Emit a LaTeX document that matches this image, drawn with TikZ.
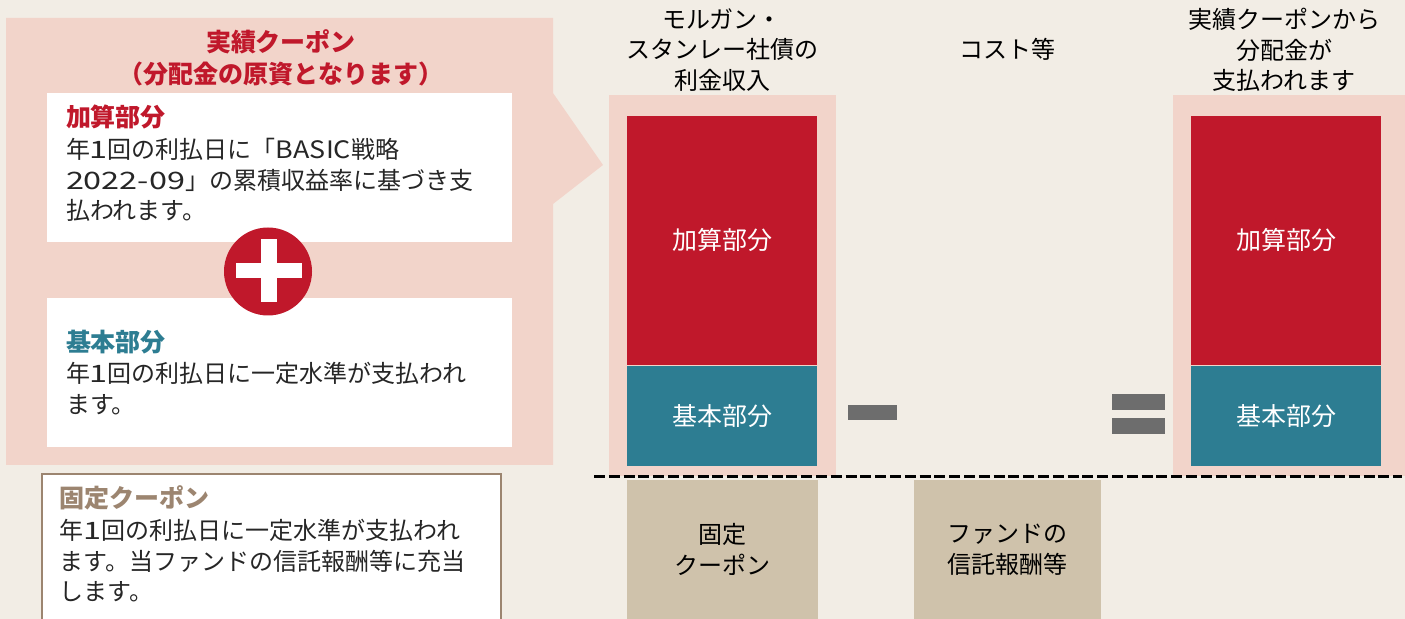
\documentclass[tikz,border=0pt]{standalone}
\usepackage{fontspec}
\setmainfont{Noto Sans CJK JP}
\newfontfamily\digfont[FakeStretch=1.35]{Noto Sans CJK JP}
\newfontfamily\latfont[FakeStretch=1.12]{Noto Sans CJK JP}
\usetikzlibrary{positioning}
\definecolor{paper}{HTML}{F2EDE5}
\definecolor{blush}{HTML}{F2D4CA}
\definecolor{couponred}{HTML}{C0182B}
\definecolor{couponteal}{HTML}{2D7D92}
\definecolor{sand}{HTML}{CFC2AB}
\definecolor{umber}{HTML}{9C8570}
\definecolor{slab}{HTML}{6D6D6D}
\begin{document}
\begin{tikzpicture}
[
   x=0.5pt,
   y=-0.5pt,
   align=center,
   every node/.style={inner sep=0pt, outer sep=0pt}
]

\tikzset{bar/.style = {shape=rectangle, minimum width=95pt, anchor=north west}}
\tikzset{redbar/.style = {bar, fill=couponred, text=white, font=\fontsize{12.5}{15.3}\selectfont}}
\tikzset{tealbar/.style = {bar, fill=couponteal, text=white, font=\fontsize{12.5}{15.3}\selectfont}}
\tikzset{sandbar/.style = {shape=rectangle, fill=sand, anchor=north west}}
\tikzset{backbar/.style = {shape=rectangle, fill=blush, anchor=north west}}
\tikzset{whitebox/.style = {shape=rectangle, fill=white, minimum width=232.5pt, minimum height=74.5pt, anchor=north west}}
\tikzset{slabbar/.style = {shape=rectangle, fill=slab, anchor=north west}}
\tikzset{lab/.style = {font=\fontsize{12}{15.3}\selectfont}}
\tikzset{body/.style = {font=\fontsize{12}{15.4}\selectfont, align=left, anchor=north west, text=black!85}}
\tikzset{head/.style = {font=\fontsize{12.5}{16}\selectfont\bfseries, align=left, anchor=west}}

\fill[paper] (0,0) rectangle (1405,619);
\useasboundingbox (0,0) rectangle (1405,619);
\fill[blush] (6,18) -- (553,18) -- (553,93) -- (603,165) -- (553,204) -- (553,465) -- (6,465) -- cycle;

% left boxes
\node[whitebox] (addbox) at (47,93) {};
\node[whitebox] (basebox) at (47,298) {};
\node[head, text=couponred, align=center, anchor=center] (title) at (281,58) {実績クーポン\\（分配金の原資となります）};
\node[head, text=couponred] (addhead) at (66,117) {加算部分};
\node[body] (addtext) at (66,138) {年{\digfont 1}回の利払日に「{\latfont BASIC}戦略\\{\digfont 2022-09}」の累積収益率に基づき支\\払われます。};
\node[head, text=couponteal] (basehead) at (66,342) {基本部分};
\node[body] (basetext) at (66,362) {年{\digfont 1}回の利払日に一定水準が支払われ\\ます。};

\node[circle, fill=couponred, minimum size=44pt] (plus) at (268,271.5) {};
\node[shape=rectangle, fill=white, minimum width=33pt, minimum height=7.5pt] (plusa) at (269,270.5) {};
\node[shape=rectangle, fill=white, minimum width=8pt, minimum height=31.5pt] (plusb) at (269,270.5) {};

% fixed coupon box
\coordinate (fixsw) at (42,619);
\coordinate (fixnw) at (42,474);
\coordinate (fixne) at (501,474);
\coordinate (fixse) at (501,619);
\fill[white] (fixsw) -- (fixnw) -- (fixne) -- (fixse) -- cycle;
\draw[umber, line width=1pt] (fixsw) -- (fixnw) -- (fixne) -- (fixse);
\node[head, text=umber] (fixhead) at (60,498) {固定クーポン};
\node[body] (fixtext) at (60,519) {年{\digfont 1}回の利払日に一定水準が支払われ\\ます。当ファンドの信託報酬等に充当\\します。};

% columns
\node[backbar, minimum width=113.5pt, minimum height=190.5pt] (backa) at (609,95) {};
\node[backbar, minimum width=116pt, minimum height=190.5pt] (backb) at (1173,95) {};
\node[redbar, minimum height=124.5pt] (adda) at (627,116) {加算部分};
\node[tealbar, minimum height=50pt, below=0.5pt of adda] (basea) {基本部分};
\node[redbar, minimum height=124.5pt] (addb) at (1191,116) {加算部分};
\node[tealbar, minimum height=50pt, below=0.5pt of addb] (baseb) {基本部分};
\node[sandbar, minimum width=95.5pt, minimum height=69.5pt, lab] (fixbar) at (627,480) {固定\\クーポン};
\node[sandbar, minimum width=93.5pt, minimum height=69.5pt, lab] (costbar) at (914,480) {ファンドの\\信託報酬等};

% labels above
\node[lab] (inca) at (722,50) {モルガン・\\スタンレー社債の\\利金収入};
\node[lab] (costa) at (1007,49) {コスト等};
\node[lab] (paya) at (1284,50) {実績クーポンから\\分配金が\\支払われます};

% operators
\node[slabbar, minimum width=24.5pt, minimum height=7.5pt] (minus) at (848,405) {};
\node[slabbar, minimum width=26.5pt, minimum height=8pt] (equala) at (1112,394) {};
\node[slabbar, minimum width=26.5pt, minimum height=8pt] (equalb) at (1112,418) {};

% dashed line
\coordinate (dashl) at (594,477);
\coordinate (dashr) at (1402,477);
\draw[black, line width=1.5pt, dash pattern=on 5.5pt off 1.9pt] (dashl) -- (dashr);
\end{tikzpicture}
\end{document}
